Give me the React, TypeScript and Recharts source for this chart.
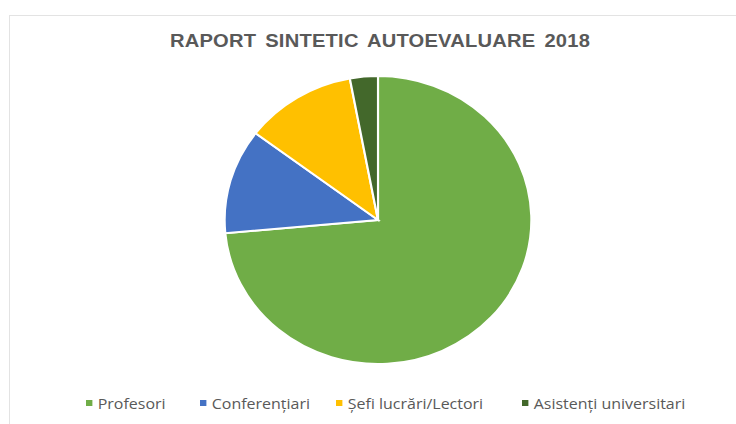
import React from 'react';
import { PieChart, Pie, Cell } from 'recharts';

const categories = ['Profesori', 'Conferențiari', 'Șefi lucrări/Lectori', 'Asistenți universitari'];
const counts = [25, 4, 4, 1];
const colors = ['#70AD47', '#4472C4', '#FFC000', '#43682B'];
const title = 'RAPORT SINTETIC AUTOEVALUARE 2018';

const data = categories.map((name, i) => ({ name, value: counts[i] }));

const legendX = [86, 200, 336, 522];

export default function App() {
  return (
    <div
      style={{
        position: 'absolute',
        left: 0,
        top: 0,
        width: 736,
        height: 424,
        background: '#fff',
        overflow: 'hidden',
        fontFamily: 'Liberation Sans, Arial, sans-serif',
      }}
    >
      {/* faint chart frame */}
      <div
        style={{
          position: 'absolute',
          left: 9,
          top: 15,
          width: 740,
          height: 420,
          border: '1px solid #e3e3e3',
        }}
      />
      <div
        style={{
          position: 'absolute',
          left: 0,
          width: 760,
          top: 30,
          textAlign: 'center',
          fontSize: 19,
          fontWeight: 'bold',
          color: '#595959',
          whiteSpace: 'pre',
          letterSpacing: 0.2,
          wordSpacing: 3,
          transform: 'scaleX(1.06)',
          transformOrigin: '380px 0',
        }}
      >
        {title}
      </div>
      <div
        style={{
          position: 'absolute',
          left: 0,
          top: 0,
          transform: 'scaleX(1.065)',
          transformOrigin: '378px 220px',
        }}
      >
        <PieChart width={736} height={424} margin={{ top: 0, right: 0, bottom: 0, left: 0 }}>
          <Pie
            data={data}
            dataKey="value"
            nameKey="name"
            cx={378}
            cy={220}
            outerRadius={144}
            startAngle={90}
            endAngle={-270}
            stroke="#fff"
            strokeWidth={2}
            isAnimationActive={false}
          >
            {data.map((d, i) => (
              <Cell key={d.name} fill={colors[i]} />
            ))}
          </Pie>
        </PieChart>
      </div>
      {categories.map((name, i) => (
        <div
          key={name}
          style={{
            position: 'absolute',
            left: legendX[i],
            top: 393,
            display: 'flex',
            alignItems: 'center',
            fontFamily: 'Open Sans, sans-serif',
            fontSize: 15,
            color: '#595959',
            whiteSpace: 'nowrap',
            transform: 'scaleX(1.065)',
            transformOrigin: '0 0',
          }}
        >
          <span
            style={{
              display: 'inline-block',
              width: 6,
              height: 6,
              background: colors[i],
              marginRight: 5,
            }}
          />
          {name}
        </div>
      ))}
    </div>
  );
}
